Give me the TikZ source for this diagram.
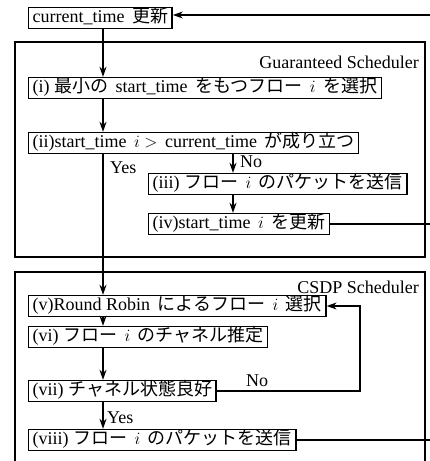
\documentclass[tikz,border=0pt]{standalone}
\usepackage{fontspec}
\setmainfont{Liberation Serif}
\newfontfamily\jp{Noto Sans CJK JP}
\usetikzlibrary{arrows.meta}
\newcommand\J[1]{{\jp #1}}
\newcommand\G{\hspace{7.5pt}}
\begin{document}
\begin{tikzpicture}[x=1pt,y=-1pt,
  box/.style={draw, line width=1.4pt, anchor=west, inner xsep=4pt, inner ysep=0pt,
    text height=13pt, text depth=5pt, minimum height=21pt, font=\fontsize{18}{21}\selectfont},
  arr/.style={-{Stealth[length=10pt,width=7pt]}, line width=1.3pt},
  ln/.style={line width=1.3pt},
  frame/.style={line width=1.1pt},
  lab/.style={font=\fontsize{18}{21}\selectfont, inner sep=0pt}]
\useasboundingbox (0,0) rectangle (430,461);
\clip (0,0) rectangle (430,461);
% frames
\draw[frame] (15,42) rectangle (425,257);
\node[lab, anchor=east] (g) at (419,62) {Guaranteed Scheduler};
\draw[frame] (15,470) -- (15,272) -- (425,272) -- (425,470);
\node[lab, anchor=east] (c) at (419,287) {CSDP Scheduler};
% nodes
\node[box] (t) at (28,18) {current\_time\G\J{更新}};
\node[box] (n1) at (28,88) {(i) \J{最小の}\G start\_time\G\J{をもつフロー}\G$i$\G\J{を選択}};
\node[box] (n2) at (28,143) {(ii)start\_time\G$i$ $>$\G current\_time\G\J{が成り立つ}};
\node[box] (n3) at (148,184) {(iii) \J{フロー}\G$i$\G\J{のパケットを送信}};
\node[box] (n4) at (148,224) {(iv)start\_time\G$i$\G\J{を更新}};
\node[box] (n5) at (28,306) {(v)Round Robin\G\J{によるフロー}\G$i$\G\J{選択}};
\node[box] (n6) at (28,337) {(vi) \J{フロー}\G$i$\G\J{のチャネル推定}};
\node[box] (n7) at (28,391) {(vii) \J{チャネル状態良好}};
\node[box] (n8) at (28,440) {(viii) \J{フロー}\G$i$\G\J{のパケットを送信}};
% helper coordinates
\coordinate (cx) at (103,0);
\coordinate (nx) at (233,0);
\coordinate (re) at (432,0);
\coordinate (fb) at (432,15);
\coordinate (lp) at (360,0);
% connectors
\draw[arr] (t.south -| cx) -- (n1.north -| cx);
\draw[arr] (n1.south -| cx) -- (n2.north -| cx);
\draw[arr] (n2.south -| cx) -- (n5.north -| cx);
\node[lab, anchor=west] (yes1) at (110,168) {Yes};
\draw[arr] (n2.south -| nx) -- (n3.north -| nx);
\node[lab, anchor=west] (no1) at (240,162) {No};
\draw[arr] (n3.south -| nx) -- (n4.north -| nx);
\draw[ln] (n4.east) -- (n4.east -| re);
\draw[arr] (fb) -- (t.east |- fb);
\draw[arr] (n5.south -| cx) -- (n6.north -| cx);
\draw[arr] (n6.south -| cx) -- (n7.north -| cx);
\draw[arr] (n7.east) -- (n7.east -| lp) -- (n5.east -| lp) -- (n5.east);
\node[lab, anchor=west] (no2) at (246,381) {No};
\draw[arr] (n7.south -| cx) -- (n8.north -| cx);
\node[lab, anchor=west] (yes2) at (107,418) {Yes};
\draw[ln] (n8.east) -- (n8.east -| re);
\end{tikzpicture}
\end{document}
